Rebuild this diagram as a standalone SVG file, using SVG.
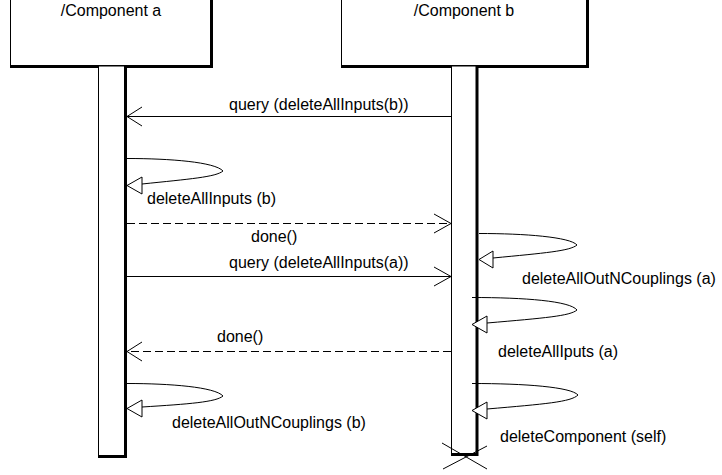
<svg xmlns="http://www.w3.org/2000/svg" width="722" height="475" viewBox="0 0 722 475">
<style>
text{font-family:"Liberation Sans",Arial,sans-serif;font-size:16px;fill:#000}
.box{fill:#fff;stroke:#000;stroke-width:1}
.sh{stroke:#000;stroke-width:3;fill:none}
.msg{stroke:#000;stroke-width:1;fill:none}
.dash{stroke-dasharray:8 4}
.tri{fill:#fff;stroke:#000;stroke-width:1}
</style>
<rect width="722" height="475" fill="#fff"/>
<g id="componentA">
<rect class="box" x="10.5" y="-30" width="201" height="95.5"/>
<path class="sh" d="M211.5,-30 V66.5 H10"/>
<text x="111" y="16" text-anchor="middle">/Component a</text>
<rect class="box" x="98.5" y="66" width="27" height="390"/>
<path class="sh" d="M125.5,66 V456.5 H98"/>
</g>
<g id="componentB">
<rect class="box" x="341.5" y="-30" width="246" height="95.5"/>
<path class="sh" d="M587.5,-30 V66.5 H341"/>
<text x="464" y="16" text-anchor="middle">/Component b</text>
<rect class="box" x="451.5" y="66" width="26" height="388"/>
<path class="sh" d="M477,66 V454.5 H451"/>
<path class="msg" d="M442,443 L487,469 M443,469 L487,446"/>
</g>
<g id="connectors">
<path class="msg" d="M451,116.5 H127 M142,107 L127,116.5 L142,126"/>
<text x="229" y="110">query (deleteAllInputs(b))</text>

<path class="msg" d="M127,158.5 C170,158.5 215,162 223,171 C216,177 190,179 142,184"/>
<path class="tri" d="M127,185.5 L142,177 L142,194 Z"/>
<text x="147" y="204">deleteAllInputs (b)</text>

<path class="msg dash" d="M127,223.5 H451"/>
<path class="msg" d="M434,214 L451,223.5 L434,233"/>
<text x="251" y="242">done()</text>

<path class="msg" d="M127,276.5 H451 M434,267 L451,276.5 L434,286"/>
<text x="229" y="268">query (deleteAllInputs(a))</text>

<path class="msg" d="M479,233.5 C525,233.5 570,237 577,245 C570,251 545,253 493,258"/>
<path class="tri" d="M479,259.5 L493,251 L493,268 Z"/>
<text x="522" y="284">deleteAllOutNCouplings (a)</text>

<path class="msg" d="M472,297.5 C525,297.5 570,301 577,310 C570,316 545,318 487,323"/>
<path class="tri" d="M472,324.5 L487,316 L487,333 Z"/>
<text x="498" y="357">deleteAllIputs (a)</text>

<path class="msg dash" d="M451,351.5 H127"/>
<path class="msg" d="M142,342 L127,351.5 L142,361"/>
<text x="217" y="342">done()</text>

<path class="msg" d="M127,383.5 C170,383.5 215,387 223,396 C216,402 190,404 142,407"/>
<path class="tri" d="M127,408.5 L142,400 L142,417 Z"/>
<text x="172" y="428">deleteAllOutNCouplings (b)</text>

<path class="msg" d="M472,383.5 C525,383.5 571,387 578,395 C571,402 545,404 487,409"/>
<path class="tri" d="M472,410.5 L487,402 L487,419 Z"/>
<text x="500" y="442">deleteComponent (self)</text>
</g>
</svg>
